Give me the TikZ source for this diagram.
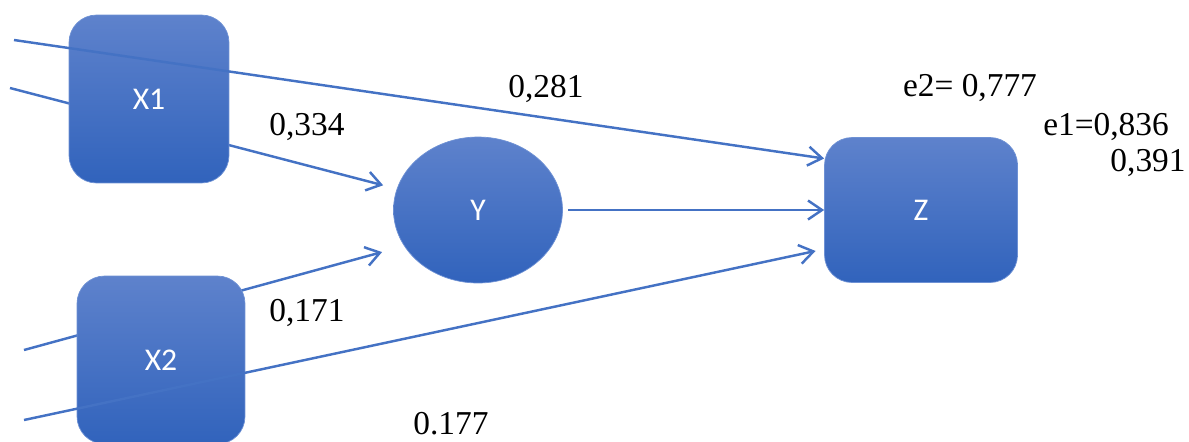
\documentclass[tikz,border=0pt]{standalone}
\usepackage{fontspec}
\setmainfont{Liberation Serif}
\newfontfamily\boxfont{Carlito}
\usetikzlibrary{arrows.meta,shapes.geometric,backgrounds}
\definecolor{boxtop}{RGB}{94,130,204}
\definecolor{boxbot}{RGB}{49,99,188}
\definecolor{boxedge}{RGB}{110,145,212}
\definecolor{linkblue}{RGB}{68,114,196}

\begin{document}
\begin{tikzpicture}[x=0.02cm, y=-0.02cm,
    var/.style={rectangle, draw=boxedge, thin, rounded corners=0.55cm, top color=boxtop, bottom color=boxbot, text=white, font=\boxfont\fontsize{18}{20}\selectfont},
    latent/.style={ellipse, draw=boxedge, thin, inner sep=0pt, minimum width=3.38cm, minimum height=2.92cm, top color=boxtop, bottom color=boxbot, text=white, font=\boxfont\fontsize{18}{20}\selectfont},
    link/.style={-{Straight Barb[length=2.8mm,width=3.8mm]}, draw=linkblue, line width=1.4pt},
    coef/.style={inner sep=0pt, font=\fontsize{19}{22}\selectfont}
]
    \useasboundingbox (0,0) rectangle (1189,441);

    % Nodes
    \node[var, minimum width=3.2cm, minimum height=3.36cm] (x1) at (149,99) {X1};
    \node[var, minimum width=3.36cm, minimum height=3.36cm] (x2) at (161,360) {X2};
    \node[latent] (y) at (478,210) {Y};
    \node[var, minimum width=3.86cm, minimum height=2.9cm] (z) at (921,210) {Z};

    % Free ends on the left
    \coordinate (in1) at (14,40);
    \coordinate (in2) at (10,88);
    \coordinate (in3) at (24,350);
    \coordinate (in4) at (24,420);

    % Coefficients
    \node[coef] (c281) at (546,89) {0,281};
    \node[coef] (c334) at (307,127) {0,334};
    \node[coef] (c171) at (307,313) {0,171};
    \node[coef] (c177) at (451,424) {0.177};
    \node[coef] (e2) at (970,88) {e2= 0,777};
    \node[coef] (e1) at (1106,127) {e1=0,836};
    \node[coef] (c391) at (1148,163) {0,391};

    % Paths
    \begin{scope}[on background layer]
        \draw[link, shorten >=8pt] (in2) -- (y);
        \draw[link, shorten >=13pt] (in3) -- (y.206);
    \end{scope}
    \draw[link] (in1) -- (z.152);
    \draw[link, shorten <=3pt] (y.east) -- (z.west);
    \draw[link, shorten >=5pt] (in4) -- (z.202);
\end{tikzpicture}
\end{document}
